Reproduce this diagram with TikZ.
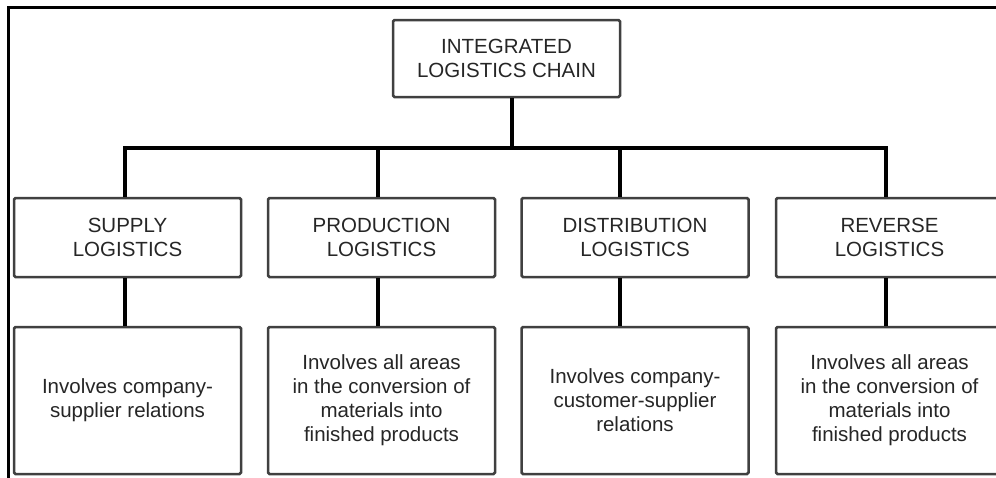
\documentclass[tikz,border=0pt]{standalone}
\usepackage{fontspec}
\setmainfont{Liberation Sans}
\begin{document}
\begin{tikzpicture}[x=1pt,y=-1pt,
  box/.style={draw=black!75, line width=2.5pt, rounded corners=1.5pt, fill=white,
    minimum width=227pt, inner sep=0pt, align=center, text=black!85,
    font=\fontsize{20.5}{24}\selectfont},
  conn/.style={draw=black, line width=4pt},
  frameline/.style={draw=black, line width=2.5pt}]
\useasboundingbox (0,0) rectangle (996,477);
\clip (0,0) rectangle (996,477);
% frame
\draw[frameline] (8.5,480) -- (8.5,7.5) -- (1000,7.5);
% nodes
\node[box, minimum height=77pt] (top) at (506.5,58.5) {INTEGRATED\\LOGISTICS CHAIN};
\node[box, minimum height=79pt] (s2) at (127.5,237.5) {SUPPLY\\LOGISTICS};
\node[box, minimum height=79pt] (p2) at (381.5,237.5) {PRODUCTION\\LOGISTICS};
\node[box, minimum height=79pt] (d2) at (635,237.5) {DISTRIBUTION\\LOGISTICS};
\node[box, minimum height=79pt] (r2) at (889.5,237.5) {REVERSE\\LOGISTICS};
\node[box, minimum height=147pt] (s3) at (127.5,400.5) {Involves company-\\supplier relations};
\node[box, minimum height=147pt] (p3) at (381.5,400.5) {Involves all areas\\in the conversion of\\materials into\\finished products};
\node[box, minimum height=147pt] (d3) at (635,400.5) {Involves company-\\customer-supplier\\relations};
\node[box, minimum height=147pt] (r3) at (889.5,400.5) {Involves all areas\\in the conversion of\\materials into\\finished products};
% bus
\coordinate (busL) at (125,148);
\coordinate (busR) at (886,148);
\draw[conn] ([xshift=-2pt]busL) -- ([xshift=2pt]busR);
\draw[conn] ([xshift=5.5pt]top.south) -- ([xshift=5.5pt]top.south |- busL);
% columns
\draw[conn] ([xshift=-2.5pt]s2.north |- busL) -- ([xshift=-2.5pt]s2.north);
\draw[conn] ([xshift=-3.5pt]p2.north |- busL) -- ([xshift=-3.5pt]p2.north);
\draw[conn] ([xshift=-15pt]d2.north |- busL) -- ([xshift=-15pt]d2.north);
\draw[conn] ([xshift=-3.5pt]r2.north |- busL) -- ([xshift=-3.5pt]r2.north);
\draw[conn] ([xshift=-2.5pt]s2.south) -- ([xshift=-2.5pt]s3.north);
\draw[conn] ([xshift=-3.5pt]p2.south) -- ([xshift=-3.5pt]p3.north);
\draw[conn] ([xshift=-15pt]d2.south) -- ([xshift=-15pt]d3.north);
\draw[conn] ([xshift=-3.5pt]r2.south) -- ([xshift=-3.5pt]r3.north);
\end{tikzpicture}
\end{document}
